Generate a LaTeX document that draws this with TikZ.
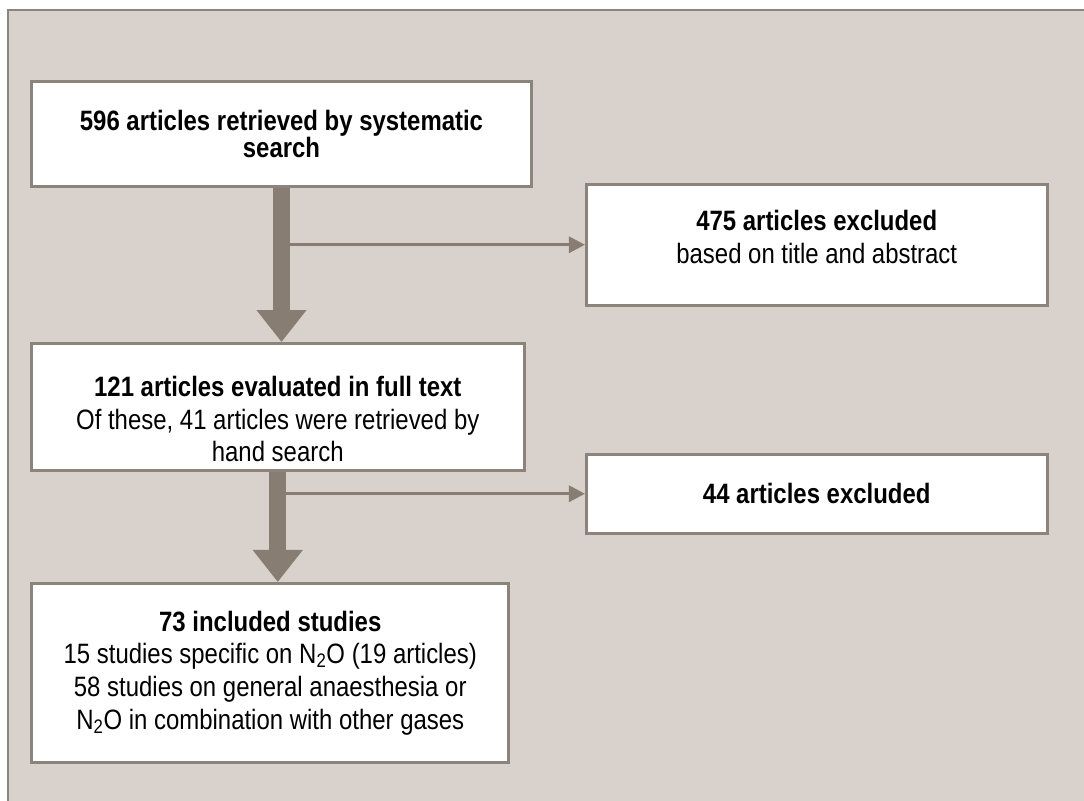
\documentclass[tikz,border=0pt]{standalone}
\usepackage{fontspec}
\setmainfont{Liberation Sans}[FakeStretch=0.855]
\usetikzlibrary{arrows.meta}
\definecolor{panelbg}{RGB}{217,209,203}
\definecolor{panelline}{RGB}{140,131,122}
\definecolor{flow}{RGB}{136,125,115}

\begin{document}
\begin{tikzpicture}[x=0.75pt,y=-0.75pt]
	\tikzstyle{box}=[draw=panelline,line width=2.25pt,fill=white,align=center,inner sep=0pt,font=\fontsize{21}{24.5}\selectfont]
	\tikzstyle{flowmain}=[flow,line width=12.75pt,-{Triangle[width=36pt,length=24pt]}]
	\tikzstyle{flowside}=[flow,line width=2.25pt,-{Triangle[width=12pt,length=12pt]}]
	\useasboundingbox (0,0) rectangle (1084,800);
	\fill [white] (0,0) rectangle (1084,800);
	\draw [panelline,line width=1.5pt,fill=panelbg] (8,10) rectangle (1100,820);
	\node (search) at (281.5,133.75) [box,minimum width=375pt,minimum height=78.4pt,font=\fontsize{21}{20}\selectfont] {\textbf{596 articles retrieved by systematic}\\\textbf{search}};
	\node (exclA) at (816.75,244.75) [box,minimum width=345.4pt,minimum height=90.4pt] {\textbf{475 articles excluded}\\based on title and abstract\rule[-12pt]{0pt}{12pt}};
	\node (fulltext) at (277.75,407.25) [box,minimum width=369.4pt,minimum height=95.6pt] {\rule{0pt}{33pt}\textbf{121 articles evaluated in full text}\\Of these, 41 articles were retrieved by\\hand search};
	\node (exclB) at (816.75,493.75) [box,minimum width=345.4pt,minimum height=58.9pt] {\textbf{44 articles excluded}};
	\node (included) at (270.25,672.75) [box,minimum width=358.1pt,minimum height=133.9pt] {\textbf{73 included studies}\\15 studies specific on N\textsubscript{2}O (19 articles)\\58 studies on general anaesthesia or\\N\textsubscript{2}O in combination with other gases};
	\draw [flowside] (search.south |- exclA.west) -- (exclA.west);
	\draw [flowside] (fulltext.south |- exclB.west) -- (exclB.west);
	\draw [flowmain] (search.south) -- (search.south |- fulltext.north);
	\draw [flowmain] (fulltext.south) -- (fulltext.south |- included.north);
\end{tikzpicture}
\end{document}
